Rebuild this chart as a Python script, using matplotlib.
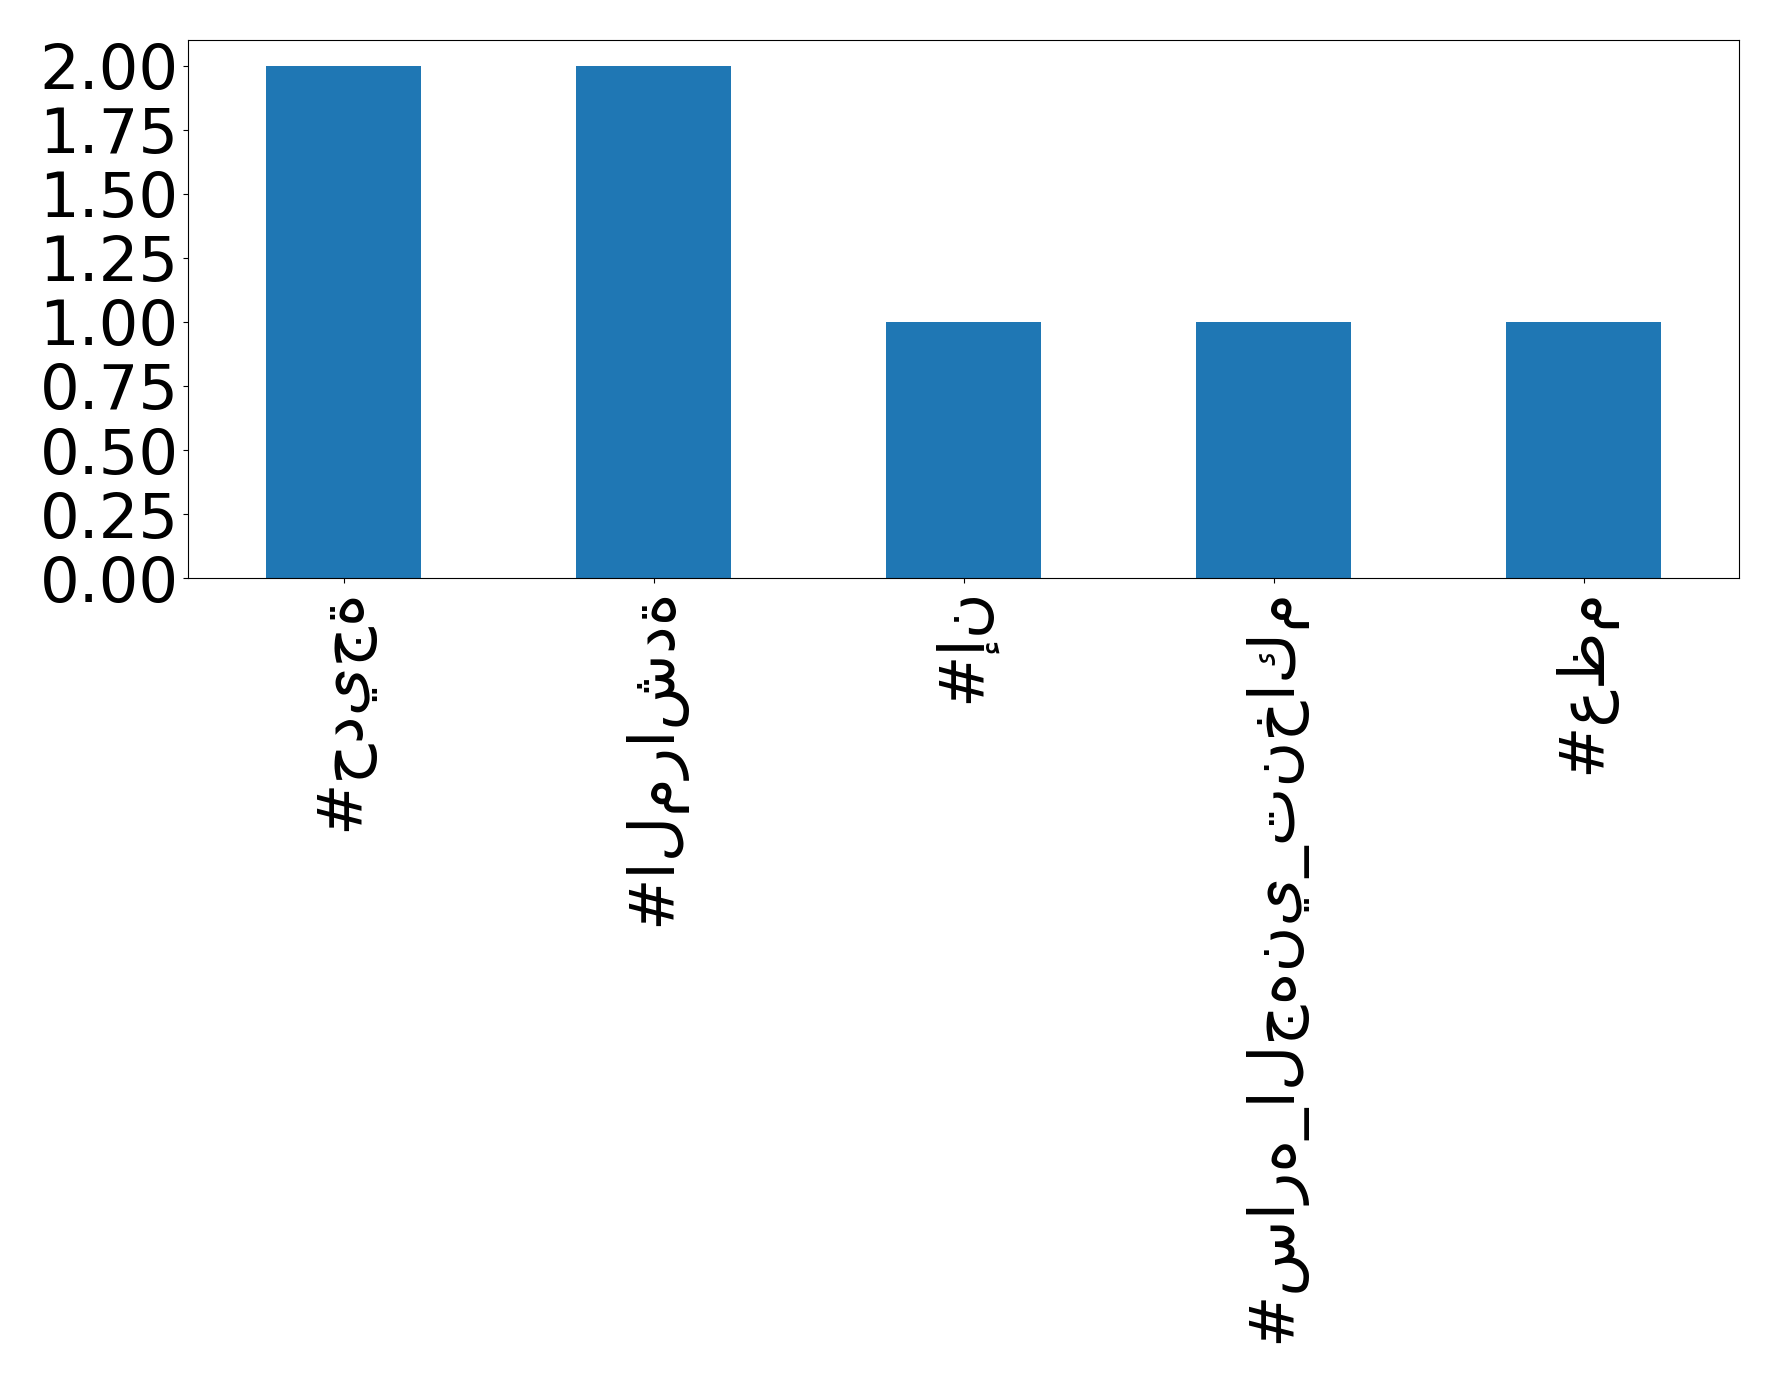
import matplotlib
matplotlib.use("Agg")
import matplotlib.pyplot as plt

# hashtag counts
labels = ["#حديجة", "#المراشدة", "#إن", "#ساره_الجهني_تنخاكم", "#عظم"]
counts = [2, 2, 1, 1, 1]

fig, ax = plt.subplots(figsize=(17.78, 13.83), dpi=100)
ax.bar(range(len(labels)), counts, width=0.5, color="#1f77b4")
ax.set_xlim(-0.5, len(labels) - 0.5)
ax.set_xticks(range(len(labels)))
ax.set_xticklabels(labels, rotation=90, fontsize=45)
ax.set_yticks([0, 0.25, 0.5, 0.75, 1.0, 1.25, 1.5, 1.75, 2.0])
ax.set_yticklabels(["%.2f" % v for v in ax.get_yticks()], fontsize=45)
ax.set_ylim(0, 2.1)

plt.subplots_adjust(left=0.106, right=0.978, top=0.971, bottom=0.582)
plt.savefig("out.png")
